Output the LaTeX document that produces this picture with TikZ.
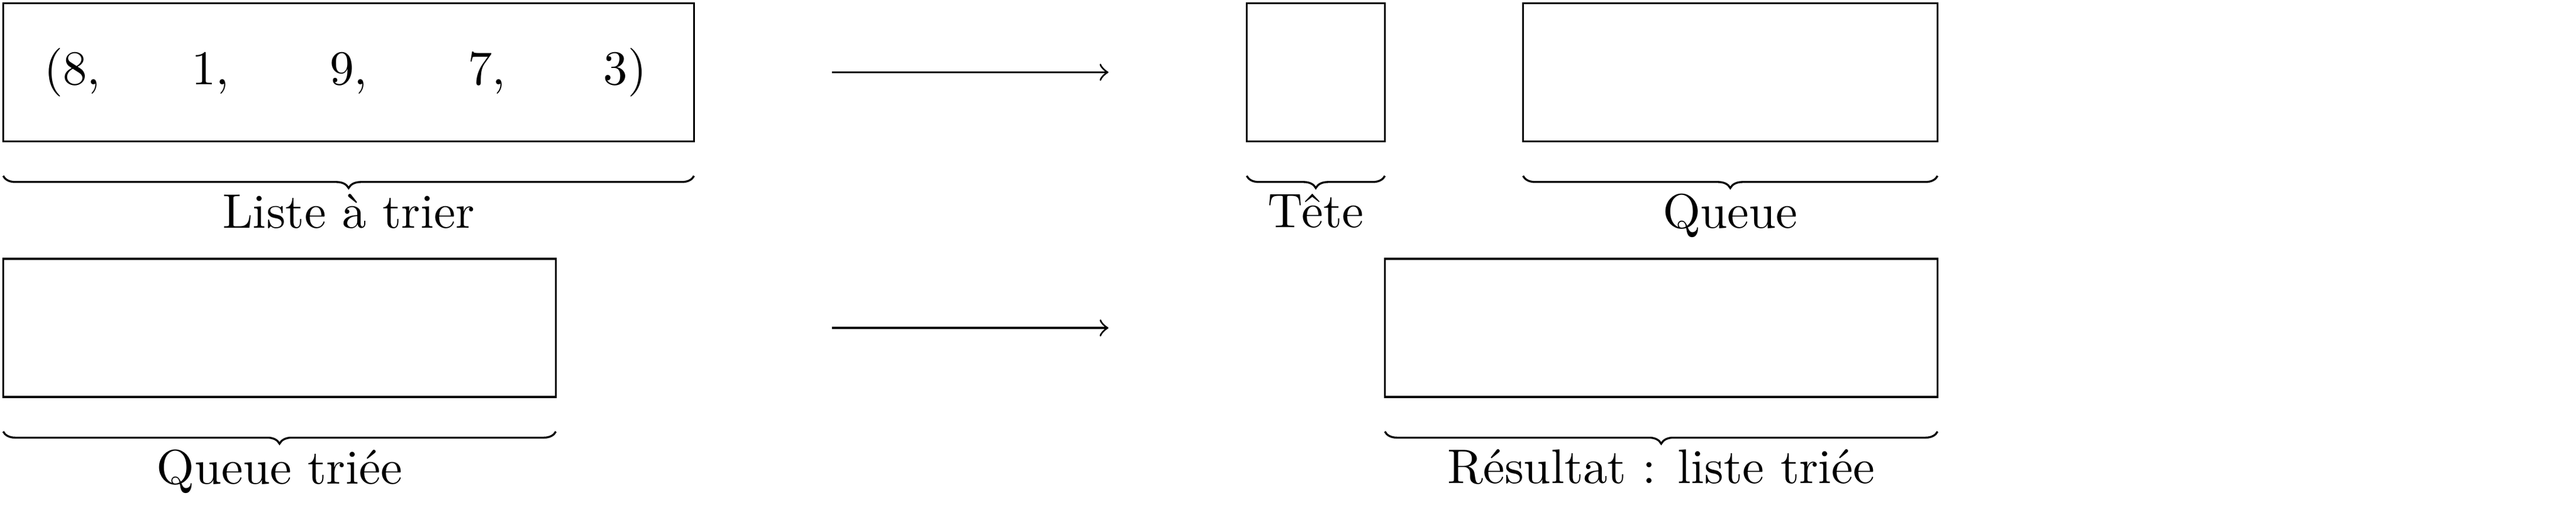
\documentclass[tikz,border=0pt]{standalone}
\usepackage{tikz}
\usetikzlibrary{decorations.pathreplacing}

\tikzset{
  boite/.style={draw, minimum height=1cm, inner sep=0pt, outer sep=0pt, anchor=north west},
  nombre/.style={anchor=base},
  accolade/.style={decorate, decoration={brace, mirror, amplitude=2.5pt}},
  legende/.style={midway, anchor=north, yshift=-3pt, inner sep=0.5pt},
}

\begin{document}
\begin{tikzpicture}
\useasboundingbox (-0.023,0.023) rectangle (18.621,-3.667);

% Liste de depart
\node[boite, minimum width=5cm] (liste) at (0,0) {};
\node[nombre] (n1) at (0.5,-0.59) {(8,};
\node[nombre] (n2) at (1.5,-0.59) {1,};
\node[nombre] (n3) at (2.5,-0.59) {9,};
\node[nombre] (n4) at (3.5,-0.59) {7,};
\node[nombre] (n5) at (4.5,-0.59) {3)};

% Decoupage tete / queue
\coordinate (d1) at (6,-0.5);
\coordinate (f1) at (8,-0.5);
\draw[->] (d1) -- (f1);
\node[boite, minimum width=1cm] (tete) at (9,0) {};
\node[boite, minimum width=3cm] (queue) at (11,0) {};

% Deuxieme ligne : insertion de la tete
\node[boite, minimum width=4cm] (queuetriee) at (0,-1.85) {};
\coordinate (d2) at (6,-2.35);
\coordinate (f2) at (8,-2.35);
\draw[->] (d2) -- (f2);
\node[boite, minimum width=4cm] (resultat) at (10,-1.85) {};

% Accolades
\draw[accolade] ([yshift=-0.25cm]liste.south west) -- ([yshift=-0.25cm]liste.south east)
  node[legende] (lliste) {Liste à trier};
\draw[accolade] ([yshift=-0.25cm]tete.south west) -- ([yshift=-0.25cm]tete.south east)
  node[legende] (ltete) {Tête};
\draw[accolade] ([yshift=-0.25cm]queue.south west) -- ([yshift=-0.25cm]queue.south east)
  node[legende] (lqueue) {Queue};
\draw[accolade] ([yshift=-0.25cm]queuetriee.south west) -- ([yshift=-0.25cm]queuetriee.south east)
  node[legende] (lqueuetriee) {Queue triée};
\draw[accolade] ([yshift=-0.25cm]resultat.south west) -- ([yshift=-0.25cm]resultat.south east)
  node[legende] (lresultat) {Résultat : liste triée};
\end{tikzpicture}
\end{document}
